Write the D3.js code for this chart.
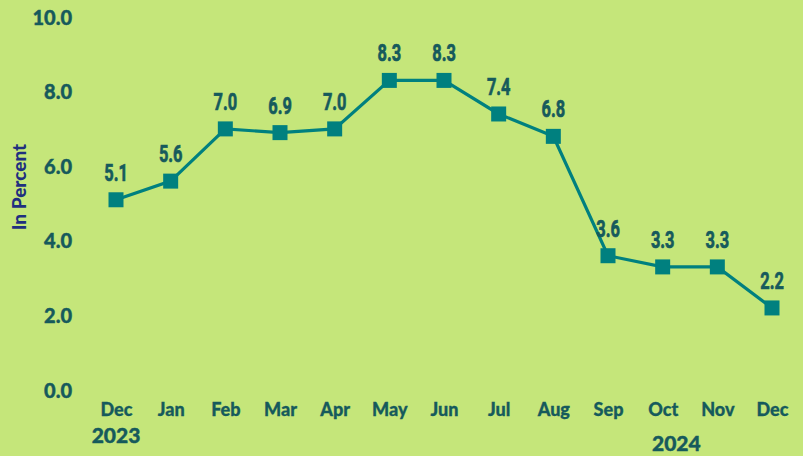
<!DOCTYPE html>
<html><head><meta charset="utf-8">
<script src="https://cdn.jsdelivr.net/npm/d3@7"></script>
<style>
html,body{margin:0;padding:0;background:#c5e67a;}
svg{display:block;}
</style></head>
<body>
<svg id="chart" width="803" height="456"></svg>
<script>
const months = ["Dec","Jan","Feb","Mar","Apr","May","Jun","Jul","Aug","Sep","Oct","Nov","Dec"];
const values = [5.1,5.6,7.0,6.9,7.0,8.3,8.3,7.4,6.8,3.6,3.3,3.3,2.2];
const yTicks = [0,2,4,6,8,10];
const yearLabels = [{idx:0, text:"2023"},{idx:10.25, text:"2024"}];

const W=803,H=456;
const svg=d3.select("#chart");
svg.append("rect").attr("width",W).attr("height",H).attr("fill","#c5e67a");

const x=d3.scaleLinear().domain([0,months.length-1]).range([116,772]);
const y=d3.scaleLinear().domain([0,10]).range([390,17]);

const textCol="#165a5c";
const lineCol="#00807f";
const geo="Lato, 'Open Sans', sans-serif";
const cond="Roboto, 'Open Sans', sans-serif";

// Y axis
const yAxis=d3.axisLeft(y).tickValues(yTicks).tickFormat(d3.format(".1f")).tickSize(0).tickPadding(0);
const gy=svg.append("g").attr("transform","translate(72,0)").call(yAxis);
gy.select(".domain").remove();
gy.selectAll("text").attr("fill",textCol).attr("stroke",textCol).attr("stroke-width",0.4).style("font-family",geo).style("font-weight","900").style("font-size","20px").attr("dy","0.35em");

// X axis
const xAxis=d3.axisBottom(x).tickValues(d3.range(months.length)).tickFormat(i=>months[i]).tickSize(0).tickPadding(0);
const gx=svg.append("g").attr("transform","translate(0,416)").call(xAxis);
gx.select(".domain").remove();
gx.selectAll("text").attr("fill",textCol).attr("stroke",textCol).attr("stroke-width",0.3).attr("dy",null).attr("y",0).style("font-family",geo).style("font-weight","900").style("font-size","18px");

// years
svg.selectAll("text.year").data(yearLabels).join("text").attr("class","year")
  .attr("x",d=>x(d.idx)).attr("y",(d,i)=>i===0?443:451)
  .attr("text-anchor","middle").attr("fill",textCol).attr("stroke",textCol).attr("stroke-width",0.4)
  .style("font-family",geo).style("font-weight","900").style("font-size","21px").text(d=>d.text);

// Y title
svg.append("text").attr("transform","translate(26,187) rotate(-90)").attr("text-anchor","middle")
  .attr("fill","#1f2f7f").style("font-family",geo).style("font-weight","900").style("font-size","19px").text("In Percent");

// line
const line=d3.line().x((d,i)=>x(i)).y(d=>y(d));
svg.append("path").datum(values).attr("d",line).attr("fill","none").attr("stroke",lineCol).attr("stroke-width",3.2);

// markers
const ms=15;
svg.selectAll("rect.m").data(values).join("rect").attr("class","m")
  .attr("x",(d,i)=>x(i)-ms/2).attr("y",d=>y(d)-ms/2).attr("width",ms).attr("height",ms).attr("fill",lineCol);

// labels
svg.selectAll("text.lbl").data(values).join("text").attr("class","lbl")
  .attr("transform",(d,i)=>`translate(${x(i)},${y(d)-19}) scale(0.82,1.22)`)
  .attr("text-anchor","middle").attr("fill",textCol).attr("stroke",textCol).attr("stroke-width",0.6)
  .style("font-family",cond).style("font-weight","bold").style("font-size","20px").text(d=>d3.format(".1f")(d));
</script>
</body></html>
